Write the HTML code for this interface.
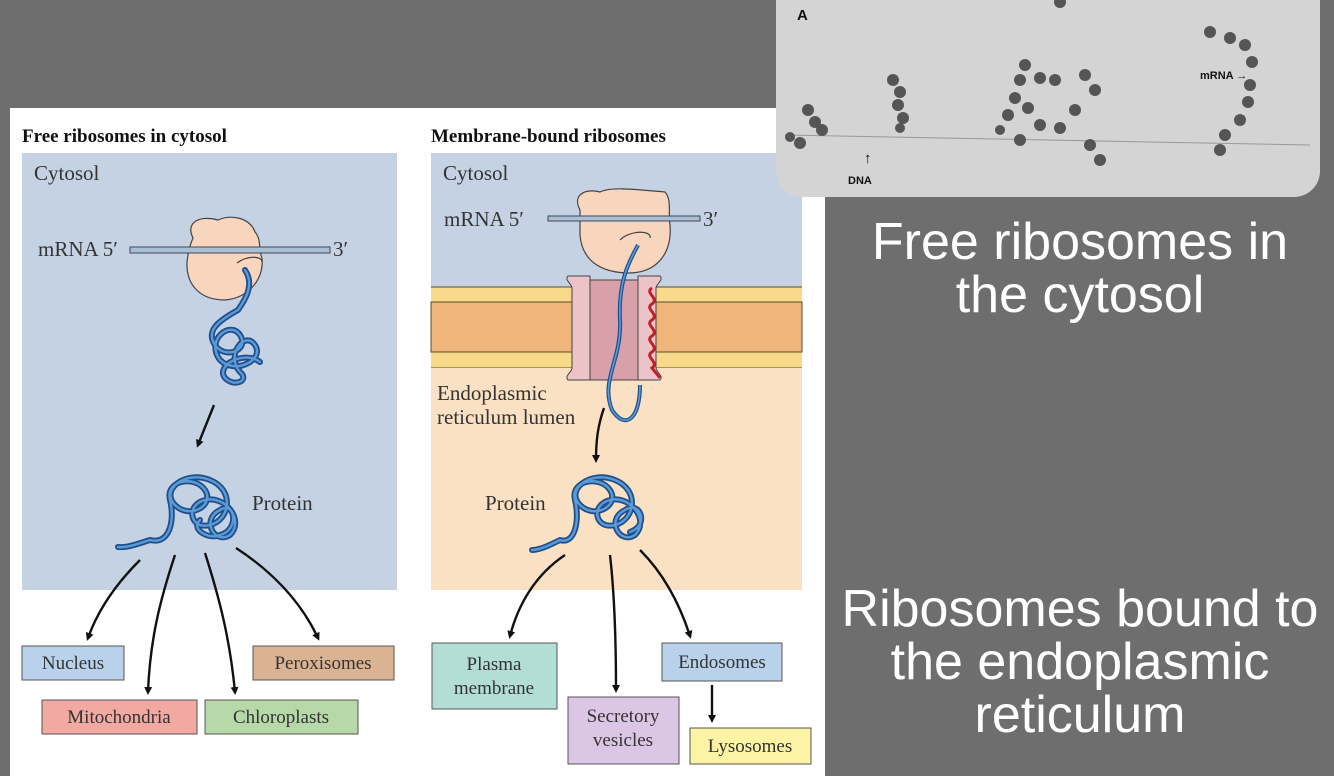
<!DOCTYPE html>
<html><head><meta charset="utf-8"><style>
html,body{margin:0;padding:0}
body{width:1334px;height:776px;background:#6e6e6e;position:relative;overflow:hidden;font-family:"Liberation Sans",sans-serif}
.big{position:absolute;color:#fff;font-size:52px;text-align:center;line-height:53px}
</style></head><body>
<svg width="1334" height="776" style="position:absolute;left:0;top:0" font-family="Liberation Serif, serif">
<defs>
<marker id="ah" markerWidth="8" markerHeight="8" refX="5" refY="4" orient="auto" markerUnits="userSpaceOnUse"><path d="M0,0 L8,4 L0,8 z" fill="#111"/></marker>
</defs>
<rect x="10" y="108" width="815" height="668" fill="#fff"/>
<text x="22" y="142" font-size="19" font-weight="bold" fill="#111">Free ribosomes in cytosol</text>
<text x="431" y="142" font-size="19" font-weight="bold" fill="#111">Membrane-bound ribosomes</text>
<rect x="22" y="153" width="375" height="437" fill="#c4d2e4"/>
<rect x="431" y="153" width="371" height="134" fill="#c4d2e4"/>
<rect x="431" y="287" width="371" height="81" fill="#f9d98a"/>
<rect x="431" y="302" width="371" height="50" fill="#f0b57a" stroke="#5a4a30" stroke-width="1"/>
<line x1="431" y1="287" x2="802" y2="287" stroke="#5a4a30"/>
<line x1="431" y1="368" x2="802" y2="368" stroke="#5a4a30"/>
<rect x="431" y="368" width="371" height="222" fill="#fbe1c3"/>
<g font-size="21" fill="#333">
<text x="34" y="180">Cytosol</text>
<text x="443" y="180">Cytosol</text>
<text x="38" y="256">mRNA  5′</text>
<text x="333" y="256">3′</text>
<text x="444" y="226">mRNA  5′</text>
<text x="703" y="226">3′</text>
<text x="437" y="400">Endoplasmic</text>
<text x="437" y="424">reticulum lumen</text>
<text x="252" y="510">Protein</text>
<text x="485" y="510">Protein</text>
</g>
<path d="M193,238 C185,222 200,215 218,220 C232,214 250,218 255,232 C262,240 258,250 262,258 C264,280 248,298 225,300 C200,300 186,285 187,262 C188,252 190,245 193,238 Z" fill="#f8d6bd" stroke="#444" stroke-width="1.2"/>
<rect x="130" y="247" width="200" height="6" fill="#a9bfd6" stroke="#445" stroke-width="1"/>
<path d="M237,263 C248,255 262,256 262,262" fill="none" stroke="#444" stroke-width="1.2"/>
<g fill="none" stroke="#1f4f8c" stroke-width="6" stroke-linecap="round">
<path d="M245,270 C255,285 245,300 238,310 C220,320 205,330 215,345 C225,360 250,350 240,335 C230,320 205,340 220,360 C235,375 265,360 255,345 C245,330 225,355 240,372 C250,380 235,388 225,378 C215,365 245,350 260,362"/>
<path d="M150,540 C170,545 175,520 170,500 C165,480 195,475 205,490 C215,505 190,520 175,505 C160,490 185,470 210,480 C235,490 230,520 210,525 C190,530 185,505 205,500 C225,495 245,520 230,535 C215,545 200,520 220,510 C235,500 240,530 220,535 C210,540 190,530 200,520 M150,540 C140,543 128,548 118,547"/>
</g>
<g fill="none" stroke="#5b9bd5" stroke-width="2.4" stroke-linecap="round">
<path d="M245,270 C255,285 245,300 238,310 C220,320 205,330 215,345 C225,360 250,350 240,335 C230,320 205,340 220,360 C235,375 265,360 255,345 C245,330 225,355 240,372 C250,380 235,388 225,378 C215,365 245,350 260,362"/>
<path d="M150,540 C170,545 175,520 170,500 C165,480 195,475 205,490 C215,505 190,520 175,505 C160,490 185,470 210,480 C235,490 230,520 210,525 C190,530 185,505 205,500 C225,495 245,520 230,535 C215,545 200,520 220,510 C235,500 240,530 220,535 C210,540 190,530 200,520 M150,540 C140,543 128,548 118,547"/>
</g>
<g fill="none" stroke="#1f4f8c" stroke-width="6" stroke-linecap="round">
<path d="M560,540 C575,545 580,520 575,500 C570,480 600,475 610,490 C620,505 595,520 580,505 C565,490 590,470 615,480 C640,490 635,520 615,525 C595,530 590,505 610,500 C630,495 650,520 635,535 C620,545 605,520 625,510 C640,500 650,525 630,532 M560,540 C550,545 540,550 532,550"/>
</g>
<g fill="none" stroke="#5b9bd5" stroke-width="2.4" stroke-linecap="round">
<path d="M560,540 C575,545 580,520 575,500 C570,480 600,475 610,490 C620,505 595,520 580,505 C565,490 590,470 615,480 C640,490 635,520 615,525 C595,530 590,505 610,500 C630,495 650,520 635,535 C620,545 605,520 625,510 C640,500 650,525 630,532 M560,540 C550,545 540,550 532,550"/>
</g>
<rect x="590" y="280" width="48" height="100" fill="#d8a0a8" stroke="#444"/>
<path d="M568,276 h22 v104 h-22 c-4,-4 4,-8 4,-12 v-80 c0,-4 -8,-8 -4,-12z" fill="#ecc4c8" stroke="#444"/>
<path d="M660,276 h-22 v104 h22 c4,-4 -4,-8 -4,-12 v-80 c0,-4 8,-8 4,-12z" fill="#ecc4c8" stroke="#444"/>
<path d="M652,288 c-8,5 8,10 0,16 c-8,5 8,10 0,16 c-8,5 8,10 0,16 c-8,5 8,10 0,16 c-8,5 8,10 0,16 l8,10" fill="none" stroke="#c0202a" stroke-width="3"/>
<path d="M580,210 C572,195 585,188 600,192 C612,186 640,190 665,192 C672,200 668,212 670,225 C672,250 660,272 630,273 C600,273 582,260 580,235 Z" fill="#f8d6bd" stroke="#444" stroke-width="1.2"/>
<rect x="548" y="216" width="152" height="5" fill="#a9bfd6" stroke="#445"/>
<path d="M620,240 C630,230 652,230 650,238" fill="none" stroke="#444" stroke-width="1.2"/>
<path d="M638,245 C630,260 618,280 620,320 C622,360 600,380 612,410 C625,430 640,420 640,385" fill="none" stroke="#1f4f8c" stroke-width="4"/>
<path d="M638,245 C630,260 618,280 620,320 C622,360 600,380 612,410 C625,430 640,420 640,385" fill="none" stroke="#5b9bd5" stroke-width="1.6"/>
<g fill="none" stroke="#111" stroke-width="2.4" marker-end="url(#ah)">
<path d="M214,405 C208,420 203,432 198,445"/>
<path d="M604,408 C598,425 596,440 596,460"/>
<path d="M140,560 C115,585 98,610 88,638"/>
<path d="M175,555 C160,600 150,640 148,692"/>
<path d="M205,553 C220,600 230,640 235,692"/>
<path d="M236,548 C270,570 300,600 318,638"/>
<path d="M565,555 C535,575 518,605 510,636"/>
<path d="M610,555 C614,590 616,640 616,690"/>
<path d="M640,550 C665,575 680,605 690,636"/>
<path d="M712,685 C712,698 712,708 712,720"/>
</g>
<g font-size="19" fill="#333" stroke="#555" stroke-width="1">
<rect x="22" y="646" width="102" height="34" fill="#b9d1ea"/>
<rect x="253" y="646" width="141" height="34" fill="#d9b392"/>
<rect x="42" y="700" width="155" height="34" fill="#f1a9a1"/>
<rect x="205" y="700" width="153" height="34" fill="#b7d8a9"/>
<rect x="432" y="643" width="125" height="66" fill="#b2ded6"/>
<rect x="662" y="643" width="120" height="38" fill="#b9d1ea"/>
<rect x="568" y="697" width="111" height="67" fill="#dcc6e6"/>
<rect x="690" y="728" width="121" height="36" fill="#fcf4a4"/>
</g>
<g font-size="19" fill="#333" text-anchor="middle">
<text x="73" y="669">Nucleus</text>
<text x="323" y="669">Peroxisomes</text>
<text x="119" y="723">Mitochondria</text>
<text x="281" y="723">Chloroplasts</text>
<text x="494" y="670">Plasma</text>
<text x="494" y="694">membrane</text>
<text x="722" y="668">Endosomes</text>
<text x="623" y="722">Secretory</text>
<text x="623" y="746">vesicles</text>
<text x="750" y="752">Lysosomes</text>
</g>
<rect x="776" y="-30" width="544" height="227" rx="26" fill="#d4d4d4"/>
<line x1="785" y1="135" x2="1310" y2="145" stroke="#999" stroke-width="1"/>
<g fill="#555">
<circle cx="808" cy="110" r="6"/><circle cx="815" cy="122" r="6"/><circle cx="822" cy="130" r="6"/><circle cx="790" cy="137" r="5"/><circle cx="800" cy="143" r="6"/>
<circle cx="893" cy="80" r="6"/><circle cx="900" cy="92" r="6"/><circle cx="898" cy="105" r="6"/><circle cx="903" cy="118" r="6"/><circle cx="900" cy="128" r="5"/>
<circle cx="1025" cy="65" r="6"/><circle cx="1020" cy="80" r="6"/><circle cx="1015" cy="98" r="6"/><circle cx="1008" cy="115" r="6"/><circle cx="1000" cy="130" r="5"/>
<circle cx="1040" cy="78" r="6"/><circle cx="1055" cy="80" r="6"/><circle cx="1028" cy="108" r="6"/><circle cx="1040" cy="125" r="6"/><circle cx="1020" cy="140" r="6"/>
<circle cx="1085" cy="75" r="6"/><circle cx="1095" cy="90" r="6"/><circle cx="1075" cy="110" r="6"/><circle cx="1060" cy="128" r="6"/>
<circle cx="1090" cy="145" r="6"/><circle cx="1100" cy="160" r="6"/>
<circle cx="1210" cy="32" r="6"/><circle cx="1230" cy="38" r="6"/><circle cx="1245" cy="45" r="6"/><circle cx="1252" cy="62" r="6"/><circle cx="1250" cy="85" r="6"/><circle cx="1248" cy="102" r="6"/><circle cx="1240" cy="120" r="6"/><circle cx="1225" cy="135" r="6"/><circle cx="1220" cy="150" r="6"/>
<circle cx="1060" cy="2" r="6"/>
</g>
<g font-family="Liberation Sans, sans-serif" font-weight="bold" fill="#111">
<text x="797" y="20" font-size="15">A</text>
<text x="848" y="184" font-size="11">DNA</text>
<text x="1200" y="79" font-size="11">mRNA →</text>
<text x="864" y="163" font-size="15">↑</text>
</g>
</svg>
<div class="big" style="left:826px;top:216px;width:508px">Free ribosomes in<br>the cytosol</div>
<div class="big" style="left:826px;top:583px;width:508px">Ribosomes bound to<br>the endoplasmic<br>reticulum</div>
</body></html>
